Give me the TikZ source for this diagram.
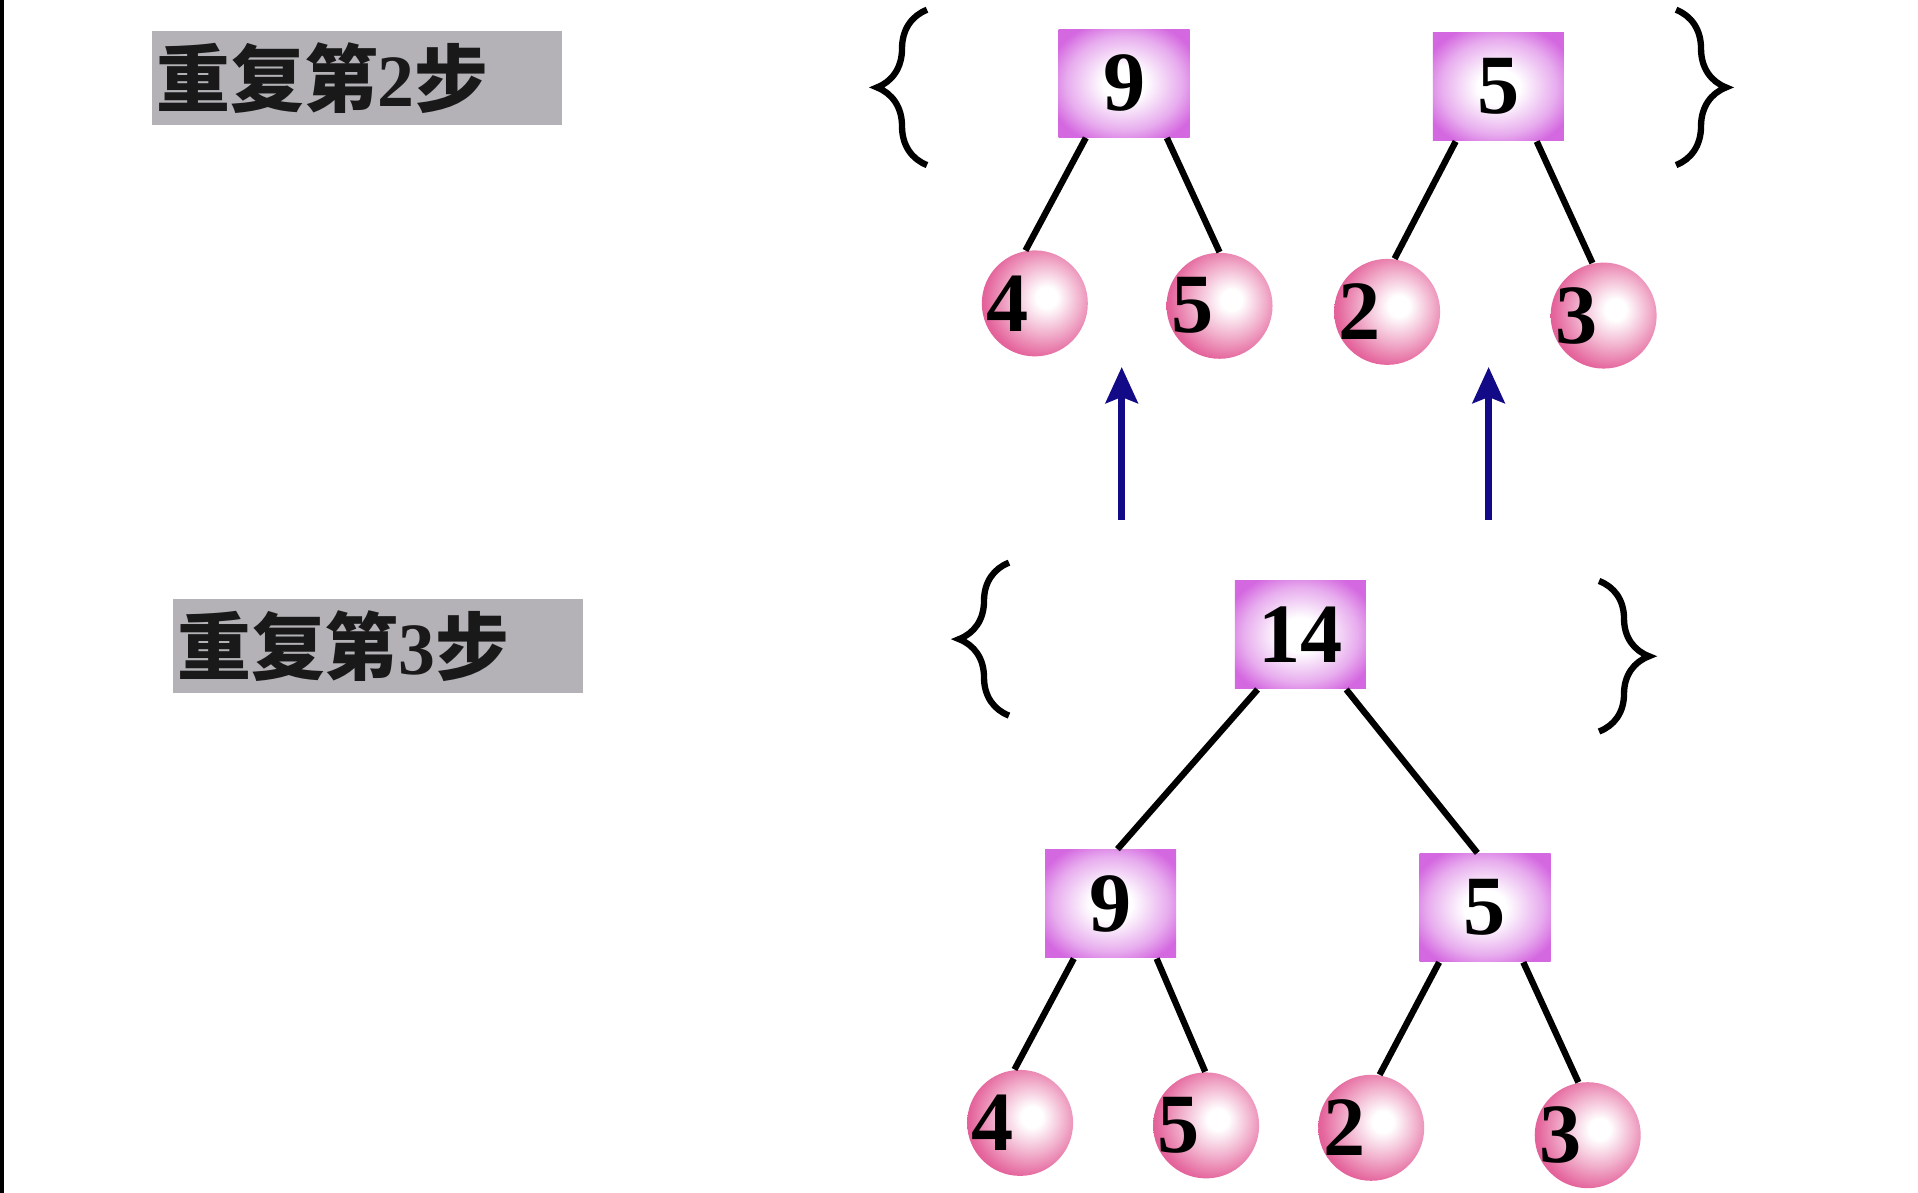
\documentclass[tikz,border=0pt]{standalone}
\usepackage{fontspec}
\setmainfont{Liberation Serif}
\newfontfamily\cjk{Noto Sans CJK SC}
\usetikzlibrary{positioning, arrows.meta, decorations.pathreplacing}

\definecolor{boxgray}{RGB}{180,178,183}
\definecolor{sqpurple}{RGB}{212,104,224}
\definecolor{ballpink}{RGB}{224,76,140}
\definecolor{arrowblue}{RGB}{18,10,135}

\pgfdeclareradialshading{pinkball}{\pgfqpoint{6bp}{3bp}}{color(0bp)=(white); color(5bp)=(white); color(17bp)=(ballpink!45!white); color(27bp)=(ballpink!85!white); color(34bp)=(ballpink); color(72bp)=(ballpink)}
\pgfdeclareradialshading{sqglow}{\pgfpointorigin}{color(0bp)=(white); color(8bp)=(white); color(22bp)=(sqpurple!55!white); color(30bp)=(sqpurple); color(72bp)=(sqpurple)}

\newcommand{\leafnum}[1]{\makebox[0pt][r]{#1\kern0.06cm}}

\tikzset{
  sq/.style={rectangle, minimum width=1.31cm, minimum height=1.08cm, inner sep=0pt,
    shading=sqglow, font=\fontsize{24}{24}\selectfont\bfseries},
  leaf/.style={circle, minimum size=1.06cm, inner sep=0pt, shading=pinkball,
    font=\fontsize{24}{24}\selectfont\bfseries},
  link/.style={line width=1.8pt},
  uparrow/.style={arrowblue, line width=2pt, -{Stealth[length=0.36cm, width=0.32cm, inset=0.06cm]}},
  curly/.style={decorate, decoration={brace, amplitude=0.5cm}, line width=1.8pt},
  labelbox/.style={fill=boxgray, anchor=west, minimum height=0.93cm, inner xsep=0.04cm,
    text width=4.02cm, align=left, text=black!90, font=\fontsize{21}{24}\selectfont\bfseries}
}

\begin{document}
\begin{tikzpicture}
\useasboundingbox (0,0) rectangle (19.18,11.93);
\fill[white] (0,0) rectangle (19.18,11.93);
\fill[black] (0,0) rectangle (0.045,11.93);

% step labels
\node[labelbox] (step2) at (1.517,11.147) {{\cjk 重复第}2{\cjk 步}};
\node[labelbox] (step3) at (1.725,5.472) {{\cjk 重复第}3{\cjk 步}};

% step 2: two trees
\node[sq] (t9) at (11.241,11.098) {9};
\node[sq] (t5) at (14.984,11.062) {5};
\node[leaf] (t4a) at (10.348,8.896) {\leafnum{4}};
\node[leaf] (t5a) at (12.195,8.872) {\leafnum{5}};
\node[leaf] (t2a) at (13.871,8.811) {\leafnum{2}};
\node[leaf] (t3a) at (16.036,8.774) {\leafnum{3}};

\draw[link] (t9.-125) -- (t4a.100);
\draw[link] (t9.-52) -- (t5a.90);
\draw[link] (t5.-128) -- (t2a.82);
\draw[link] (t5.-55) -- (t3a.102);

\draw[curly] (9.27,10.279) -- (9.27,11.832);
\draw[curly] (16.76,11.832) -- (16.76,10.279);

% arrows up
\coordinate (a1s) at (11.217,6.731);
\coordinate (a1e) at (11.217,8.26);
\coordinate (a2s) at (14.886,6.731);
\coordinate (a2e) at (14.886,8.26);
\draw[uparrow] (a1s) -- (a1e);
\draw[uparrow] (a2s) -- (a2e);

% step 3: merged tree
\node[sq] (b14) at (13.003,5.582) {14};
\node[sq] (b9) at (11.107,2.891) {9};
\node[sq] (b5) at (14.850,2.854) {5};
\node[leaf] (b4) at (10.201,0.701) {\leafnum{4}};
\node[leaf] (b5a) at (12.061,0.676) {\leafnum{5}};
\node[leaf] (b2) at (13.712,0.652) {\leafnum{2}};
\node[leaf] (b3) at (15.877,0.578) {\leafnum{3}};

\draw[link] (b14.-128) -- (b9.83);
\draw[link] (b14.-50) -- (b5.98);
\draw[link] (b9.-124) -- (b4.96);
\draw[link] (b9.-50) -- (b5a.91);
\draw[link] (b5.-130) -- (b2.81);
\draw[link] (b5.-55) -- (b3.100);

\draw[curly] (10.09,4.774) -- (10.09,6.303);
\draw[curly] (15.99,6.120) -- (15.99,4.615);
\end{tikzpicture}
\end{document}
